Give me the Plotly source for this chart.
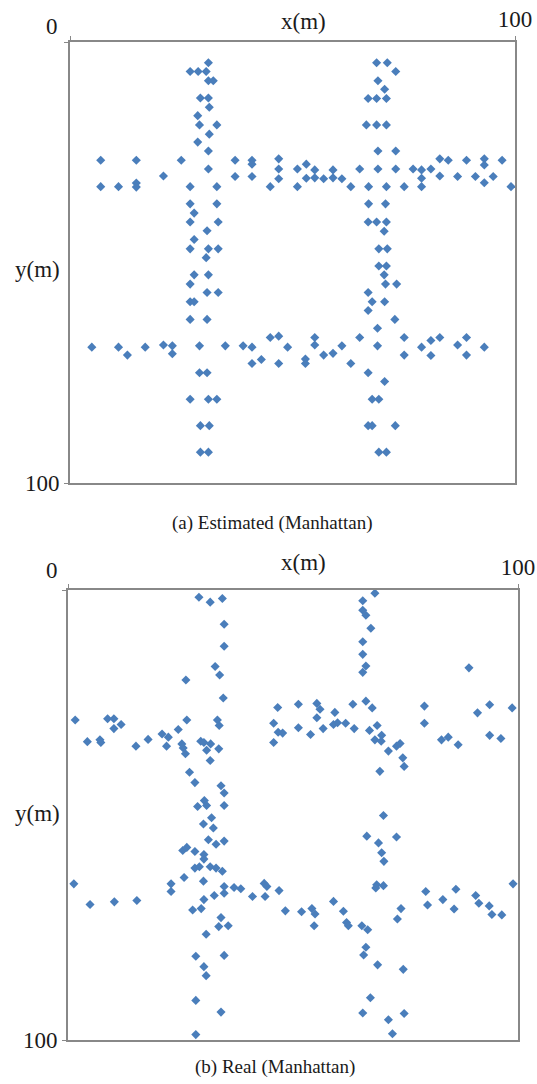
import plotly.graph_objects as go

# ---------------- data (metres) ----------------
est_x = [31.1, 27.0, 28.8, 30.6, 31.1, 32.2, 29.3, 31.1, 31.3, 28.7, 29.1, 33.0, 31.3, 28.7, 31.1,
         6.9, 14.9, 25.0, 37.1, 40.9, 40.9, 46.9, 31.1, 46.9, 21.0, 37.1, 40.9, 46.9,
         6.9, 10.9, 14.9, 14.9, 27.0, 33.0, 45.0, 27.0, 33.0, 27.9, 27.0, 33.3, 30.8, 27.9,
         27.0, 31.1, 33.3, 30.6, 27.9, 31.1, 27.0, 30.8, 33.3, 27.0, 27.9, 27.0, 30.8,
         4.9, 10.9, 12.9, 16.9, 21.0, 23.0, 23.0, 29.1, 34.9, 38.9, 40.9, 40.9, 43.0, 45.0,
         46.9, 46.9, 48.9, 29.1, 30.8, 27.0, 31.1, 33.0, 29.3, 31.3, 29.3, 31.1,
         68.9, 71.3, 73.2, 69.2, 70.7, 67.0, 68.9, 71.1, 66.6, 68.9, 71.1, 69.2, 73.2,
         83.1, 85.0, 89.1, 93.1, 93.1, 97.1,
         51.1, 53.1, 55.0, 59.1, 65.1, 69.2, 73.2, 77.1, 79.0, 81.1,
         53.1, 55.0, 57.0, 59.1, 61.1, 79.0, 83.1, 87.1, 91.1, 95.1, 93.1,
         51.1, 63.1, 67.1, 71.1, 75.1, 79.0, 99.1,
         67.1, 70.9, 67.0, 68.9, 71.1, 70.6, 69.4, 71.3, 69.4, 71.1,
         70.6, 70.9, 73.4, 67.0, 67.9, 70.7, 67.0, 73.0, 69.1,
         65.1, 75.1, 83.1, 89.1, 55.0, 55.0, 52.9, 52.9,
         57.0, 59.1, 61.1, 63.1, 69.1, 75.1, 79.0, 81.1, 81.1, 87.1, 89.1, 93.1,
         67.0, 70.7, 67.9, 69.4, 67.0, 67.9, 73.1, 69.4, 71.1]
est_y = [4.7, 6.7, 6.7, 6.7, 8.8, 8.8, 12.7, 12.7, 14.8, 16.7, 18.8, 18.8, 20.9, 22.7, 24.7,
         26.8, 26.8, 26.8, 26.8, 26.8, 27.7, 26.5, 28.8, 28.8, 30.4, 30.5, 30.5, 31.0,
         32.8, 32.8, 32.0, 32.9, 32.8, 32.8, 32.8, 36.7, 36.7, 38.8, 40.8, 40.8, 42.8, 44.8,
         46.9, 46.9, 46.9, 48.9, 52.8, 52.8, 54.9, 56.8, 56.8, 58.9, 58.9, 62.9, 62.9,
         69.2, 69.2, 71.0, 69.2, 68.7, 68.9, 70.7, 68.9, 68.9, 68.9, 69.2, 72.9, 72.0, 67.0,
         66.7, 72.9, 69.2, 75.0, 75.0, 81.0, 81.0, 81.0, 87.0, 87.0, 93.0, 93.0,
         4.7, 4.7, 6.7, 8.8, 10.7, 12.8, 12.8, 12.8, 18.8, 18.8, 18.8, 24.7, 24.7,
         26.5, 26.8, 26.8, 26.5, 27.9, 26.8,
         28.8, 27.7, 29.0, 29.0, 28.8, 28.8, 28.8, 28.8, 29.0, 28.8,
         30.9, 30.8, 31.0, 30.8, 31.0, 30.9, 30.4, 30.5, 30.5, 30.5, 31.9,
         32.8, 32.8, 32.8, 32.8, 32.8, 32.8, 32.8,
         36.7, 36.7, 40.8, 40.8, 40.8, 42.9, 46.9, 46.9, 50.8, 50.8,
         52.8, 54.9, 54.9, 56.8, 58.9, 58.9, 60.9, 62.9, 64.9,
         67.0, 67.0, 67.0, 67.0, 67.0, 68.7, 71.9, 72.9,
         71.0, 70.6, 68.9, 72.9, 68.9, 71.0, 69.2, 67.7, 71.1, 68.7, 71.0, 69.2,
         75.0, 77.0, 81.0, 81.0, 87.0, 87.0, 87.0, 93.0, 93.0]

real_x = [29.1, 31.6, 34.3, 34.7, 34.7, 32.7, 33.7, 26.2, 34.5, 46.6,
          1.6, 8.8, 10.2, 10.2, 11.8, 26.4, 33.2, 33.6, 45.7, 46.7, 47.7, 24.5, 20.9, 22.3,
          4.3, 7.1, 7.3, 15.1, 17.8, 21.9, 25.3, 25.6, 26.1, 29.5, 30.2, 31.7, 30.8, 33.5,
          45.7, 31.6, 27.0, 28.2, 34.0, 34.7, 30.3, 28.8, 30.8, 34.7,
          31.9, 30.1, 32.3, 31.2, 32.9, 34.7, 25.5, 26.4, 28.2, 30.2, 30.2, 28.2, 29.2,
          31.6, 32.9, 34.3, 25.8, 22.9, 22.9, 1.3, 4.9, 10.3, 15.3, 30.1, 34.7, 36.9,
          38.4, 43.6, 44.2, 46.9, 34.7, 32.5, 30.2, 41.0, 43.8, 48.3, 27.7, 29.6, 34.0,
          33.5, 35.6, 30.7, 28.4, 34.7, 30.2, 30.7, 28.4, 34.0, 28.4,
          68.2, 65.5, 65.5, 66.2, 67.3, 65.5, 65.5, 66.2, 65.5, 89.1,
          51.2, 55.3, 56.0, 55.3, 59.3, 63.3, 66.2, 67.6, 79.2, 79.2, 91.0, 93.7, 98.7,
          51.2, 53.9, 56.7, 59.0, 59.9, 61.7, 63.6, 67.0, 68.7, 68.2, 69.7, 69.6, 71.2,
          73.0, 73.8, 74.4, 74.7, 69.3, 83.0, 84.5, 86.7, 93.7, 96.2,
          70.1, 66.4, 73.0, 69.0, 69.7, 70.2, 68.6, 70.1, 68.4, 98.9, 79.5, 79.9, 86.2,
          83.3, 85.8, 90.6, 91.3, 93.6, 94.2, 96.4, 51.9, 54.2, 54.9, 54.7, 59.0, 61.2,
          61.9, 62.3, 65.3, 66.6, 74.0, 73.2, 66.2, 65.7, 68.8, 74.5, 67.2, 65.5, 74.7,
          71.2, 72.1]
real_y = [1.6, 2.7, 1.9, 7.6, 12.5, 17.0, 18.9, 20.0, 24.0, 26.1,
          28.9, 28.6, 28.6, 30.8, 29.9, 28.9, 28.9, 30.1, 29.6, 31.6, 31.8, 31.0, 32.0, 32.7,
          33.7, 33.3, 33.9, 34.7, 33.2, 34.7, 34.2, 35.1, 36.4, 33.6, 33.9, 34.2, 35.6, 35.3,
          33.9, 37.9, 40.5, 42.8, 43.5, 45.1, 46.8, 48.1, 47.9, 47.9,
          50.6, 52.0, 52.9, 55.5, 56.5, 55.8, 57.9, 57.2, 58.1, 58.8, 59.8, 61.8, 61.5,
          61.5, 61.8, 62.5, 63.9, 65.3, 67.0, 65.3, 69.9, 69.3, 69.0, 64.7, 65.9, 66.1,
          66.4, 65.2, 65.9, 66.8, 67.4, 67.9, 68.8, 68.1, 68.1, 71.3, 71.1, 70.8, 72.8,
          74.8, 74.6, 76.5, 81.4, 81.2, 83.7, 85.7, 91.2, 93.8, 98.8,
          0.7, 2.4, 4.5, 5.6, 8.5, 11.5, 14.3, 16.9, 18.3, 17.3,
          25.4, 25.2, 26.5, 28.4, 27.2, 25.4, 24.7, 26.2, 25.8, 29.6, 27.3, 25.5, 26.2,
          30.6, 32.1, 30.8, 29.9, 29.5, 29.6, 30.8, 31.2, 30.1, 33.3, 32.3, 33.6, 35.8,
          34.7, 34.1, 37.3, 39.2, 40.3, 33.3, 32.7, 34.4, 32.3, 33.0,
          50.1, 54.7, 54.9, 56.2, 58.4, 60.3, 65.5, 65.7, 66.2, 65.3, 67.0, 70.0, 66.5,
          68.8, 70.9, 67.9, 69.6, 70.2, 72.1, 72.2, 71.5, 70.8, 72.0, 74.6, 69.2, 71.4,
          73.9, 74.6, 74.6, 75.5, 70.8, 73.1, 79.4, 81.1, 83.3, 84.3, 90.6, 94.0, 94.1,
          95.5, 98.6]

captions = ["(a) Estimated (Manhattan)", "(b) Real (Manhattan)"]
x_title = "x(m)"
y_title = "y(m)"

# ---------------- styling ----------------
W, H = 537, 1084
FONT = "Liberation Serif, Times New Roman, serif"
TXT = "#1a1a1a"
AX = "#888888"
MK = "#4a7ebb"

def px(v):
    return v / W

def py(v):
    return 1 - v / H

fig = go.Figure()
fig.add_trace(go.Scatter(x=est_x, y=est_y, mode="markers", xaxis="x", yaxis="y",
                         marker=dict(symbol="diamond", size=7, color=MK), showlegend=False))
fig.add_trace(go.Scatter(x=real_x, y=real_y, mode="markers", xaxis="x2", yaxis="y2",
                         marker=dict(symbol="diamond", size=7, color=MK), showlegend=False))

# panel pixel boxes: (left, right, top, bottom)
panels = [(70, 515, 42, 483), (68, 518, 590, 1040)]

common_x = dict(range=[0, 100], side="top", showgrid=False, zeroline=False, showline=True,
                linecolor=AX, linewidth=1.6, mirror=True, ticks="outside", ticklen=4,
                tickcolor=AX, tickwidth=1.2, tickvals=[0, 100], ticktext=["", "100"],
                tickfont=dict(family=FONT, size=23, color=TXT), fixedrange=True,
                automargin=False)
common_y = dict(range=[100, 0], showgrid=False, zeroline=False, showline=True,
                linecolor=AX, linewidth=1.6, mirror=True, ticks="outside", ticklen=4,
                tickcolor=AX, tickwidth=1.2, tickvals=[0, 100], ticktext=["", "100"],
                tickfont=dict(family=FONT, size=23, color=TXT), fixedrange=True,
                automargin=False)

layout = dict(width=W, height=H, margin=dict(l=0, r=0, t=0, b=0, pad=0),
              paper_bgcolor="white", plot_bgcolor="white", showlegend=False)
for i, (l, r, t, b) in enumerate(panels):
    sfx = "" if i == 0 else str(i + 1)
    xa = dict(common_x, domain=[px(l), px(r)], anchor="y" + sfx)
    ya = dict(common_y, domain=[py(b), py(t)], anchor="x" + sfx)
    layout["xaxis" + sfx] = xa
    layout["yaxis" + sfx] = ya
fig.update_layout(**layout)

annots = []
def add_text(text, x, y, size):
    annots.append(dict(text=text, x=px(x), y=py(y), xref="paper", yref="paper",
                       xanchor="center", yanchor="middle", showarrow=False,
                       font=dict(family=FONT, size=size, color=TXT)))

label_pos = [
    dict(zero=(52, 26), xt=(303, 22), yt=(37, 269), cap=(272, 523)),
    dict(zero=(52, 570), xt=(303, 562), yt=(37, 813), cap=(275, 1067)),
]
for i, lp in enumerate(label_pos):
    add_text("0", *lp["zero"], 23)
    add_text(x_title, *lp["xt"], 23)
    add_text(y_title, *lp["yt"], 23)
    add_text(captions[i], *lp["cap"], 19)

fig.update_layout(annotations=annots)
fig.write_html(
    "out.html",
    config={"displayModeBar": False},
    post_script="document.documentElement.style.margin='0';document.body.style.margin='0';"
                "document.body.style.overflow='hidden';",
)
